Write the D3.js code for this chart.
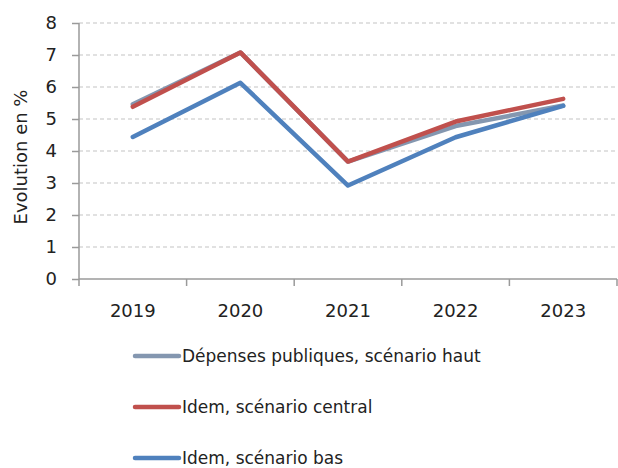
<!DOCTYPE html>
<html lang="fr">
<head>
<meta charset="UTF-8">
<title>Evolution des dépenses publiques</title>
<script src="https://d3js.org/d3.v7.min.js"></script>
<style>
  body { margin: 0; background: #fff; }
  text { font-family: "DejaVu Sans", sans-serif; fill: #222; }
  .grid line { stroke: #c4c4c4; stroke-dasharray: 4,3; stroke-width: 1.2; }
  .series { fill: none; stroke-width: 4.5; stroke-linejoin: round; stroke-linecap: round; }
</style>
</head>
<body>
<svg width="618" height="468"></svg>
<script>
const years = ["2019", "2020", "2021", "2022", "2023"];
const haut = [5.46, 7.08, 3.67, 4.78, 5.42];
const central = [5.38, 7.08, 3.67, 4.92, 5.63];
const bas = [4.44, 6.13, 2.92, 4.43, 5.41];
const seriesNames = ["Dépenses publiques, scénario haut", "Idem, scénario central", "Idem, scénario bas"];
const colors = ["#8497b0", "#c0504d", "#4f81bd"];
const yTicks = [0, 1, 2, 3, 4, 5, 6, 7, 8];

const svg = d3.select("svg");
const plotLeft = 79, plotRight = 617, plotTop = 23, plotBottom = 279;

const x = d3.scaleBand().domain(years).range([plotLeft, plotRight]);
const y = d3.scaleLinear().domain([0, 8]).range([plotBottom, plotTop]);

// dashed gridlines
svg.append("g").attr("class", "grid")
  .selectAll("line").data(yTicks.filter(d => d > 0)).enter().append("line")
  .attr("x1", plotLeft).attr("x2", plotRight)
  .attr("y1", d => y(d)).attr("y2", d => y(d));

// y axis
const yAxis = svg.append("g")
  .attr("transform", `translate(${plotLeft},0)`)
  .call(d3.axisLeft(y).tickValues(yTicks).tickSize(7).tickPadding(15));
yAxis.select(".domain").attr("stroke", "#9a9a9a").attr("stroke-width", 1.5).attr("d", `M0,${plotTop}V${plotBottom}`);
yAxis.selectAll(".tick line").attr("stroke", "#9a9a9a").attr("stroke-width", 1.5);
yAxis.selectAll(".tick text").style("font-size", "18px").style("font-family", "'DejaVu Sans', sans-serif").attr("fill", "#222");

// x axis with ticks on band boundaries
const xAxis = svg.append("g").attr("transform", `translate(0,${plotBottom})`);
xAxis.append("line").attr("x1", plotLeft).attr("x2", plotRight).attr("stroke", "#9a9a9a").attr("stroke-width", 1.5);
const bounds = years.map(d => x(d)).concat([plotRight]);
xAxis.selectAll("line.tk").data(bounds).enter().append("line").attr("class", "tk")
  .attr("x1", d => d).attr("x2", d => d).attr("y1", 0).attr("y2", 7)
  .attr("stroke", "#9a9a9a").attr("stroke-width", 1.5);
xAxis.selectAll("text").data(years).enter().append("text")
  .attr("x", d => x(d) + x.bandwidth() / 2).attr("y", 38)
  .attr("text-anchor", "middle").style("font-size", "18px")
  .text(d => d);

// y label
svg.append("text")
  .attr("transform", "translate(27,157) rotate(-90)")
  .attr("text-anchor", "middle").style("font-size", "18px")
  .text("Evolution en %");

// lines
const line = d3.line().x((d, i) => x(years[i]) + x.bandwidth() / 2).y(d => y(d));
[haut, central, bas].forEach((s, i) => {
  svg.append("path").attr("class", "series").attr("d", line(s)).attr("stroke", colors[i]);
});

// legend
const legend = svg.append("g").selectAll("g").data(seriesNames).enter().append("g")
  .attr("transform", (d, i) => `translate(135,${356 + i * 51})`);
legend.append("line").attr("x1", 0).attr("x2", 44)
  .attr("stroke", (d, i) => colors[i]).attr("stroke-width", 4.5).attr("stroke-linecap", "round");
legend.append("text").attr("x", 47).attr("y", 6).style("font-size", "17px").text(d => d);
</script>
</body>
</html>
